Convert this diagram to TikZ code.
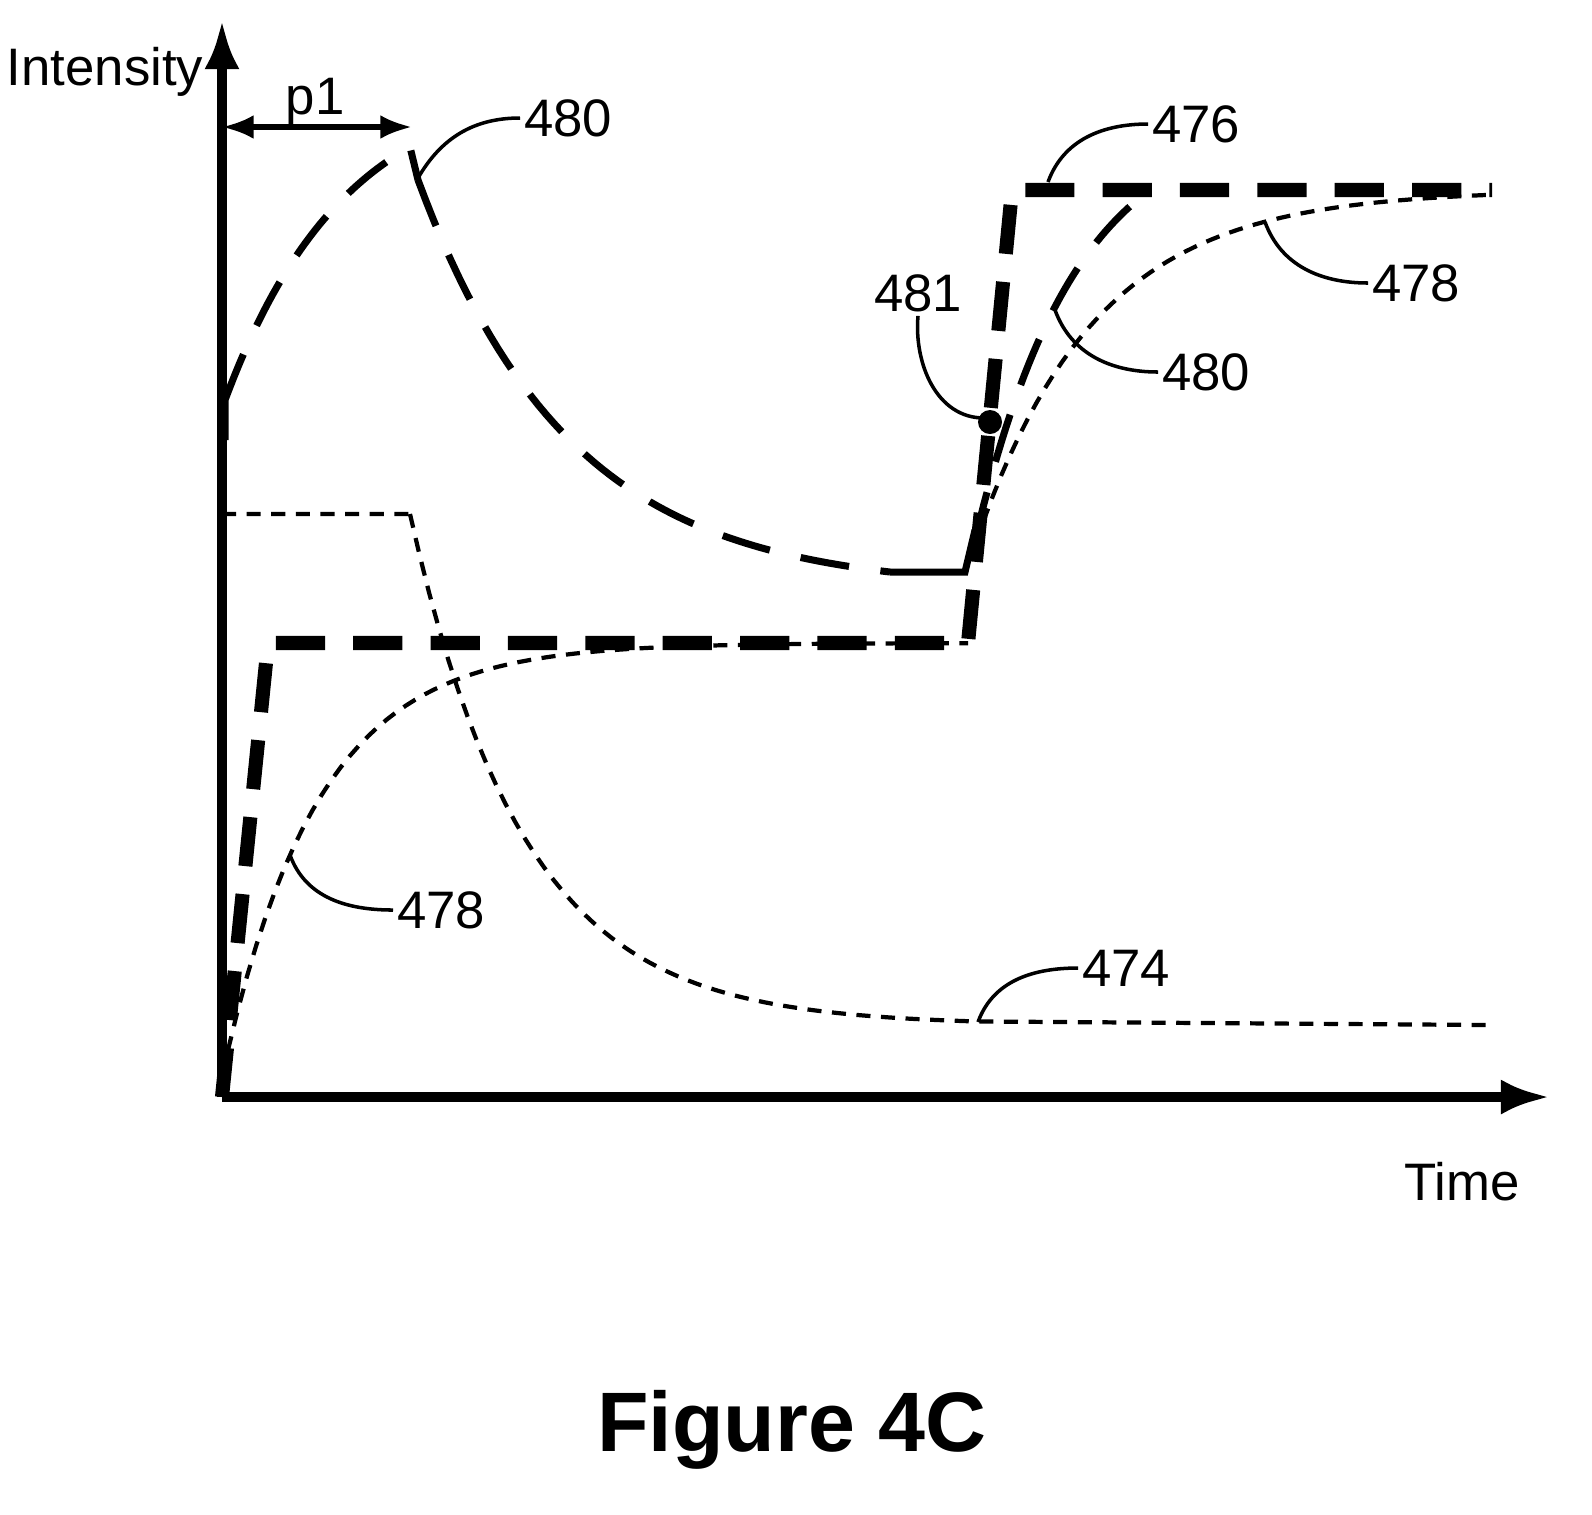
\documentclass[tikz,border=0pt]{standalone}
\usepackage{fontspec}
\setmainfont{Liberation Sans}
\usetikzlibrary{arrows.meta, positioning}

\tikzset{
  axis/.style={line width=3pt, -{Latex[length=14pt,width=10pt]}},
  lbl/.style={font=\fontsize{15}{17}\selectfont, inner sep=1pt},
  leader/.style={line width=1pt},
  curveA/.style={line width=2pt, dash pattern=on 14pt off 9pt},
  curveB/.style={line width=4pt, dash pattern=on 14pt off 8pt},
  curveC/.style={line width=1.2pt, dash pattern=on 4pt off 3pt}
}

\begin{document}
\begin{tikzpicture}[x=0.01cm, y=-0.01cm]
  \useasboundingbox (0,0) rectangle (1592,1514);

  % axes
  \coordinate (o) at (222,1097);
  \coordinate (ytop) at (222,20);
  \coordinate (xend) at (1550,1097);
  \draw[axis] (o) -- (ytop);
  \draw[axis] (o) -- (xend);
  \node (ylab) [lbl] at (105,72) {Intensity};
  \node (xlab) [lbl] at (1462,1182) {Time};
  \node (fig) at (792,1430) {\fontsize{24}{28}\selectfont\bfseries Figure 4C};

  % p1
  \coordinate (p1a) at (222,127);
  \coordinate (p1b) at (412,127);
  \draw[line width=1.5pt, {Latex[length=9pt]}-{Latex[length=9pt]}] (p1a) -- (p1b);
  \node (p1) [lbl] at (315,102) {p1};

  % 474
  \draw[curveC] (222,514) -- (410,514)
    plot[domain=410:975, samples=60] (\x, {1025-511*exp(-(\x-410)/114)})
    -- (1492,1025);

  % 478
  \draw[curveC] plot[domain=228:968, samples=80] (\x, {643+420*exp(-(\x-225)/95)});
  \draw[curveC] plot[domain=975:1492, samples=60] (\x, {190+355*exp(-(\x-975)/120)});

  % 476
  \draw[curveB] (o) -- (268,643) -- (968,643) -- (1012,190) -- (1492,190);

  % 480
  \draw[curveA] (225,440) -- (225,400)
    plot[domain=225:410, samples=40] (\x, {400-253*(1-exp(-(\x-225)/120))/(1-exp(-185/120))})
    -- (418,180)
    plot[domain=418:890, samples=60] (\x, {590-410*exp(-(\x-418)/151)});
  \draw[line width=2pt] (890,572) -- (965,572) -- (975,530);
  \draw[curveA] plot[domain=975:1150, samples=40] (\x, {540-350*(1-exp(-(\x-975)/100))/(1-exp(-175/100))});

  % 481
  \fill (990,422) circle (12);

  % labels
  \node (l480a) [lbl, anchor=west] at (520,118) {480};
  \node (l476) [lbl, anchor=west] at (1148,124) {476};
  \node (l478a) [lbl, anchor=west] at (1368,283) {478};
  \node (l480b) [lbl, anchor=west] at (1158,372) {480};
  \node (l481) [lbl] at (918,293) {481};
  \node (l478b) [lbl, anchor=west] at (393,910) {478};
  \node (l474) [lbl, anchor=west] at (1078,968) {474};

  \coordinate (c480a) at (418,178);
  \coordinate (c476) at (1048,182);
  \coordinate (c478a) at (1265,222);
  \coordinate (c480b) at (1055,310);
  \coordinate (c481) at (984,418);
  \coordinate (c478b) at (290,855);
  \coordinate (c474) at (978,1022);

  \draw[leader] (c480a) to[out=60,in=180] (l480a.west);
  \draw[leader] (c476) to[out=70,in=180] (l476.west);
  \draw[leader] (c478a) to[out=-70,in=180] (l478a.west);
  \draw[leader] (c480b) to[out=-70,in=180] (l480b.west);
  \draw[leader] (l481.south) to[out=-95,in=180] (c481);
  \draw[leader] (c478b) to[out=-70,in=180] (l478b.west);
  \draw[leader] (c474) to[out=70,in=180] (l474.west);
\end{tikzpicture}
\end{document}
